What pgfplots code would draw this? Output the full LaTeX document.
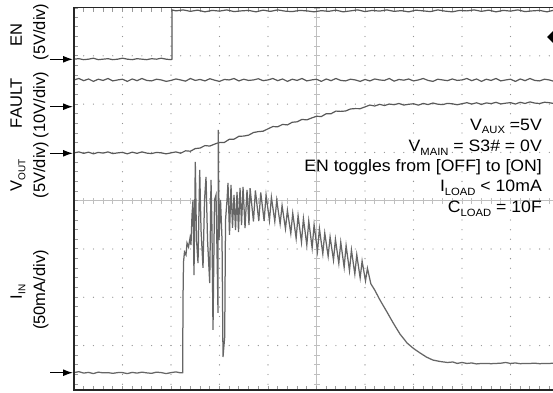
\documentclass[border=0pt]{standalone}
\usepackage{pgfplots}
\pgfplotsset{compat=1.18}
\usepackage{graphicx}
\usepackage{fontspec}
\setmainfont{Liberation Sans}
\usetikzlibrary{arrows.meta}
\newcommand{\sub}[1]{\raisebox{-3.5pt}{\fontsize{10.5}{10}\selectfont #1}}
\newcommand{\lsub}[1]{\raisebox{-3.5pt}{\fontsize{10}{10}\selectfont #1}}
\begin{document}
\begin{tikzpicture}
\useasboundingbox (-74pt,-2pt) rectangle (479pt,390pt);
% dotted graticule
\foreach \k in {1,2,3,4,6,7,8,9} {
  \draw[gray!85, line width=1.3pt, line cap=round, dash pattern=on 0pt off 9.659pt] ({48.5pt*\k},5.8pt) -- ({48.5pt*\k},382.5pt);
}
\foreach \n in {-3,-2,-1,1,2,3} {
  \draw[gray!85, line width=1.3pt, line cap=round, dash pattern=on 0pt off 9.7pt] (0pt,{189.3pt+48.295pt*\n}) -- (479pt,{189.3pt+48.295pt*\n});
}
% centre crosshair
\draw[gray!50, line width=0.8pt] (242.5pt,0pt) -- (242.5pt,382.5pt);
\draw[gray!50, line width=6pt, dash pattern=on 0.9pt off 8.759pt] (242.5pt,5.35pt) -- (242.5pt,382.5pt);
\draw[gray!50, line width=0.8pt] (0pt,189.3pt) -- (479pt,189.3pt);
\draw[gray!50, line width=6pt, dash pattern=on 0.9pt off 8.8pt] (-0.45pt,189.3pt) -- (479pt,189.3pt);
% border ticks
\draw[gray!80, line width=4pt, dash pattern=on 1pt off 8.659pt] (2pt,5.3pt) -- (2pt,382.5pt);
\draw[gray!80, line width=4pt, dash pattern=on 1pt off 8.7pt] (-0.5pt,2pt) -- (479pt,2pt);
\draw[gray!80, line width=4pt, dash pattern=on 1pt off 8.7pt] (-0.5pt,380.5pt) -- (479pt,380.5pt);

\begin{axis}[at={(0pt,0pt)}, anchor=south west, scale only axis,
  width=479pt, height=382.5pt,
  xmin=0, xmax=9.876, ymin=-3.92, ymax=4,
  hide axis, clip=true]
% EN
\addplot[black!65, line width=1.2pt] coordinates {
(0,2.93)(0.1,2.94)(0.2,2.92)(0.3,2.93)(0.4,2.95)(0.5,2.92)(0.6,2.93)(0.7,2.94)(0.8,2.92)(0.9,2.93)(1.0,2.95)(1.1,2.93)(1.2,2.92)(1.3,2.94)(1.4,2.93)(1.5,2.92)(1.6,2.94)(1.7,2.93)(1.8,2.95)(1.9,2.93)(2.0,2.92)(2.02,2.93)(2.02,3.95)
(2.10,3.93)(2.25,3.95)(2.40,3.92)(2.55,3.945)(2.70,3.91)(2.85,3.94)(3.00,3.925)(3.15,3.95)(3.30,3.915)(3.45,3.93)(3.60,3.94)(3.75,3.91)(3.90,3.945)(4.05,3.92)(4.20,3.95)(4.35,3.925)(4.50,3.915)(4.65,3.94)(4.80,3.93)(4.95,3.91)
(5.10,3.935)(5.25,3.92)(5.40,3.945)(5.55,3.91)(5.70,3.93)(5.85,3.95)(6.00,3.915)(6.15,3.94)(6.30,3.925)(6.45,3.95)(6.60,3.92)(6.75,3.935)(6.90,3.91)(7.05,3.945)(7.20,3.93)(7.35,3.915)(7.50,3.95)(7.65,3.925)(7.80,3.91)(7.95,3.94)
(8.10,3.93)(8.25,3.95)(8.40,3.92)(8.55,3.945)(8.70,3.91)(8.85,3.94)(9.00,3.925)(9.15,3.95)(9.30,3.915)(9.45,3.93)(9.60,3.94)(9.75,3.91)(9.90,3.945)
};
% FAULT
\addplot[black!65, line width=1.2pt] coordinates {
(0.0,2.50)(0.1,2.53)(0.2,2.485)(0.3,2.52)(0.4,2.47)(0.5,2.515)(0.6,2.49)(0.7,2.53)(0.8,2.48)(0.9,2.50)(1.0,2.515)(1.1,2.47)(1.2,2.52)(1.3,2.485)(1.4,2.53)(1.5,2.49)(1.6,2.48)(1.7,2.515)(1.8,2.50)(1.9,2.47)
(2.0,2.49)(2.1,2.52)(2.2,2.50)(2.3,2.475)(2.4,2.53)(2.5,2.49)(2.6,2.51)(2.7,2.48)(2.8,2.525)(2.9,2.495)(3.0,2.47)(3.1,2.51)(3.2,2.50)(3.3,2.53)(3.4,2.48)(3.5,2.515)(3.6,2.49)(3.7,2.50)(3.8,2.525)(3.9,2.485)
(4.0,2.50)(4.1,2.53)(4.2,2.485)(4.3,2.52)(4.4,2.47)(4.5,2.515)(4.6,2.49)(4.7,2.53)(4.8,2.48)(4.9,2.50)(5.0,2.515)(5.1,2.47)(5.2,2.52)(5.3,2.485)(5.4,2.53)(5.5,2.49)(5.6,2.48)(5.7,2.515)(5.8,2.50)(5.9,2.47)
(6.0,2.51)(6.1,2.48)(6.2,2.52)(6.3,2.50)(6.4,2.49)(6.5,2.53)(6.6,2.475)(6.7,2.51)(6.8,2.495)(6.9,2.52)(7.0,2.48)(7.1,2.50)(7.2,2.53)(7.3,2.49)(7.4,2.47)(7.5,2.515)(7.6,2.50)(7.7,2.485)(7.8,2.52)(7.9,2.49)
(8.0,2.50)(8.1,2.53)(8.2,2.485)(8.3,2.52)(8.4,2.47)(8.5,2.515)(8.6,2.49)(8.7,2.53)(8.8,2.48)(8.9,2.50)(9.0,2.515)(9.1,2.47)(9.2,2.52)(9.3,2.485)(9.4,2.53)(9.5,2.49)(9.6,2.48)(9.7,2.515)(9.8,2.50)(9.9,2.47)
};
% VOUT
\addplot[black!65, line width=1.2pt] coordinates {
(0.0,0.99)(0.1,1.01)(0.2,0.98)(0.3,1.005)(0.4,0.97)(0.5,1.00)(0.6,0.985)(0.7,1.01)(0.8,0.975)(0.9,0.99)(1.0,1.00)(1.1,0.97)(1.2,1.005)(1.3,0.98)(1.4,1.01)(1.5,0.985)(1.6,0.975)(1.7,1.00)(1.8,0.99)(1.9,0.97)
(2.0,0.99)(2.1,1.01)(2.2,0.983)(2.3,1.033)(2.4,1.024)(2.5,1.079)(2.6,1.09)(2.7,1.141)(2.8,1.131)(2.9,1.172)(3.0,1.207)(3.1,1.206)(3.2,1.27)(3.3,1.274)(3.4,1.333)(3.5,1.338)(3.6,1.357)(3.7,1.411)(3.8,1.430)(3.9,1.439)
(4.0,1.488)(4.1,1.535)(4.2,1.53)(4.3,1.579)(4.4,1.569)(4.5,1.624)(4.6,1.633)(4.7,1.683)(4.8,1.673)(4.9,1.713)(5.0,1.748)(5.1,1.742)(5.2,1.801)(5.3,1.801)(5.4,1.855)(5.5,1.849)(5.6,1.857)(5.7,1.899)(5.8,1.907)(5.9,1.905)
(6.0,1.942)(6.1,1.98)(6.2,1.96)(6.3,1.995)(6.4,1.97)(6.5,2.001)(6.6,1.987)(6.7,2.013)(6.8,1.98)(6.9,1.996)(7.0,2.007)(7.1,1.978)(7.2,2.014)(7.3,1.99)(7.4,2.022)(7.5,1.998)(7.6,1.989)(7.7,2.015)(7.8,2.006)(7.9,1.987)
(8.0,2.008)(8.1,2.029)(8.2,2.001)(8.3,2.027)(8.4,1.993)(8.5,2.024)(8.6,2.01)(8.7,2.036)(8.8,2.003)(8.9,2.019)(9.0,2.03)(9.1,2.001)(9.2,2.037)(9.3,2.013)(9.4,2.045)(9.5,2.021)(9.6,2.012)(9.7,2.038)(9.8,2.029)(9.9,2.01)
};
% IIN
\addplot[black!60, line width=1.25pt] coordinates {
(0,-3.56)(0.1,-3.54)(0.2,-3.57)(0.3,-3.555)(0.4,-3.58)(0.5,-3.55)(0.6,-3.565)(0.7,-3.56)(0.8,-3.575)(0.9,-3.56)(1.0,-3.56)(1.1,-3.58)(1.2,-3.555)(1.3,-3.57)(1.4,-3.55)(1.5,-3.565)(1.6,-3.575)(1.7,-3.55)(1.8,-3.56)(1.9,-3.58)(2.0,-3.56)(2.1,-3.545)(2.2,-3.565)
(2.241,-3.561)(2.247,-2.056)(2.258,-1.269)(2.278,-1.062)(2.309,-1.124)(2.330,-0.876)(2.361,-0.959)(2.392,-0.772)(2.412,-0.917)(2.433,-0.296)(2.454,0.014)(2.474,-1.54)(2.501,0.801)(2.526,-0.814)(2.557,-1.290)(2.592,0.636)(2.619,-0.607)(2.660,-1.393)(2.691,0.014)(2.722,0.491)(2.753,-0.814)(2.798,-1.704)(2.825,0.429)(2.845,-0.607)(2.866,-2.677)(2.897,0.014)(2.928,0.118)(2.948,-1.021)(2.969,-2.325)(2.975,1.464)(2.990,-0.814)(3.021,0.014)(3.052,-0.814)(3.072,-3.236)(3.107,-2.822)(3.124,-0.400)(3.155,0.014)(3.175,0.366)(3.206,-0.710)(3.237,0.325)(3.268,-0.565)(3.299,0.118)(3.330,-0.607)(3.361,0.180)(3.392,-0.648)(3.423,0.263)(3.454,-0.503)(3.485,0.284)(3.526,-0.565)(3.567,0.222)(3.608,-0.503)
(3.63,0.26)(3.70,-0.43)(3.74,0.21)(3.81,-0.42)(3.85,0.17)(3.92,-0.42)(3.96,0.12)(4.03,-0.41)(4.07,0.07)(4.14,-0.43)(4.18,0.01)(4.25,-0.48)(4.29,-0.10)(4.36,-0.58)(4.40,-0.20)(4.47,-0.68)(4.51,-0.26)(4.58,-0.78)(4.62,-0.31)(4.69,-0.86)(4.73,-0.37)(4.80,-0.92)(4.84,-0.42)(4.91,-0.98)(4.95,-0.50)(5.02,-1.05)(5.06,-0.58)(5.13,-1.10)(5.17,-0.67)(5.24,-1.15)(5.28,-0.75)(5.35,-1.23)(5.39,-0.80)(5.46,-1.30)(5.50,-0.86)(5.57,-1.38)(5.61,-0.93)(5.68,-1.45)(5.72,-1.02)(5.79,-1.52)(5.83,-1.12)(5.90,-1.60)(5.94,-1.25)(6.01,-1.66)(6.05,-1.40)(6.12,-1.72)
(6.20,-1.85)(6.31,-2.06)(6.45,-2.30)(6.58,-2.53)(6.72,-2.76)(6.87,-2.95)(7.00,-3.06)(7.13,-3.15)(7.27,-3.24)(7.40,-3.30)(7.55,-3.33)(7.70,-3.35)(7.81,-3.34)(7.90,-3.37)(8.0,-3.35)(8.1,-3.37)(8.2,-3.36)(8.3,-3.38)(8.4,-3.37)(8.5,-3.37)(8.6,-3.375)(8.7,-3.37)(8.8,-3.365)(8.9,-3.35)(9.0,-3.37)(9.1,-3.36)(9.2,-3.375)(9.3,-3.37)(9.4,-3.37)(9.5,-3.365)(9.6,-3.375)(9.7,-3.37)(9.8,-3.37)(9.9,-3.365)
};
\end{axis}
% frame
\draw[black!85, line width=1.8pt] (479pt,382.5pt) -- (0pt,382.5pt) -- (0pt,0pt) -- (479pt,0pt);
% ground-level arrows
\foreach \y in {330.7,283.3,236.7,17.3} {
  \draw[black, line width=1.3pt, -{Latex[length=10pt,width=7pt]}] (-24pt,\y pt) -- (-1pt,\y pt);
}
% trigger marker
\fill[black] (473pt,353pt) -- (479pt,359pt) -- (485pt,353pt) -- (479pt,347pt) -- cycle;
% channel labels
\begin{scope}[every node/.style={font=\fontsize{16.5}{18}\selectfont, inner sep=0pt, rotate=90, anchor=base}]
\node at (-52pt,355pt) {EN};
\node at (-29pt,358pt) {(5V/div)};
\node at (-52pt,287pt) {FAULT};
\node at (-29pt,285pt) {(10V/div)};
\node at (-52pt,215pt) {V\lsub{OUT}};
\node at (-29pt,220pt) {(5V/div)};
\node at (-52pt,98pt) {I\lsub{IN}};
\node at (-29pt,100pt) {(50mA/div)};
\end{scope}
% conditions
\begin{scope}[every node/.style={font=\fontsize{16.5}{18}\selectfont, inner sep=0pt, anchor=base east}]
\node at (468pt,260pt) {\scalebox{1.07}[1]{V\sub{AUX} =5V}};
\node at (468pt,238.3pt) {\scalebox{1.07}[1]{V\sub{MAIN} = S3\# = 0V}};
\node at (468pt,219pt) {\scalebox{1.07}[1]{EN toggles from [OFF] to [ON]}};
\node at (468pt,198.3pt) {\scalebox{1.07}[1]{I\sub{LOAD} < 10mA}};
\node at (468pt,177.3pt) {\scalebox{1.07}[1]{C\sub{LOAD} = 10F}};
\end{scope}
\end{tikzpicture}
\end{document}
